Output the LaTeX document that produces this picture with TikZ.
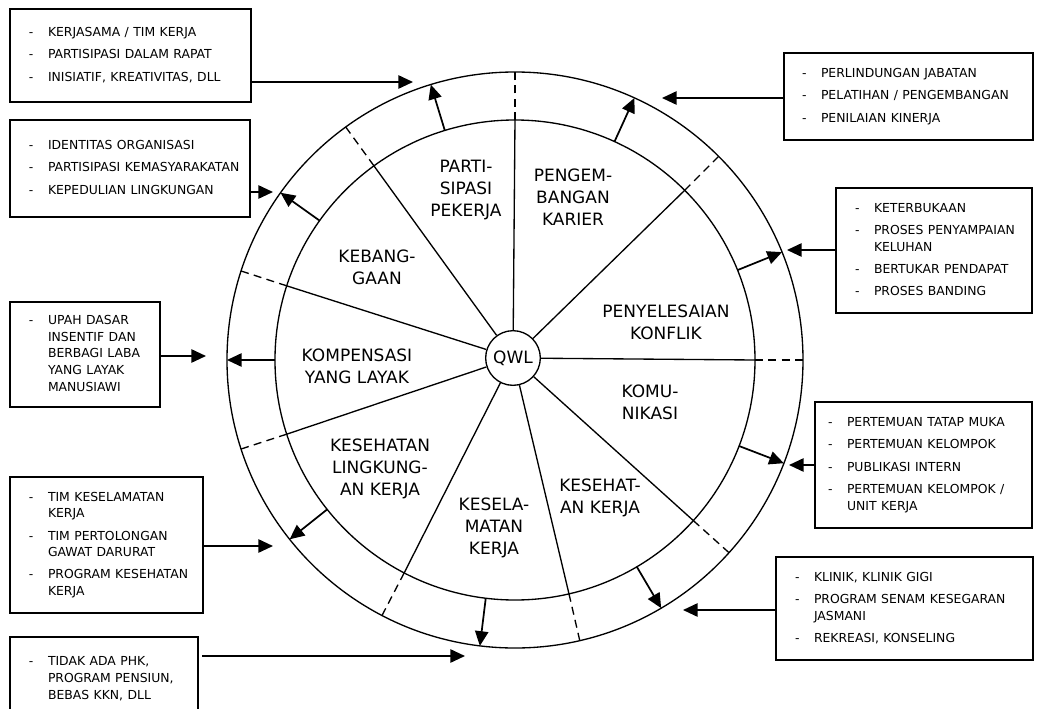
\documentclass[tikz,border=0pt]{standalone}
\usepackage{fontspec}
\setmainfont{DejaVu Sans}
\usetikzlibrary{arrows.meta}
\setlength{\parindent}{0pt}
\newcommand{\boxfont}{\fontsize{9.3}{12.5}\selectfont}
\newcommand{\segfont}{\fontsize{12.75}{16.5}\selectfont}
\newenvironment{dashlist}{\boxfont\begin{tabular}{@{}l@{\hspace{10.9pt}}l@{}}}{\end{tabular}}
\begin{document}
\begin{tikzpicture}[x=0.75pt,y=0.75pt,
    >={Triangle[length=11pt,width=10pt]},
    ring/.style={line width=1pt},
    link/.style={line width=1.3pt,->},
    seg/.style={align=center,font=\segfont},
    infobox/.style 2 args={draw,line width=1.4pt,text width=#1,minimum height=#2,
      inner xsep=14.25pt,inner ysep=0pt,align=left}]
   \useasboundingbox (-515,-348) rectangle (524,360);
   \clip (-515,-348) rectangle (524,360);
   \fill[white] (-515,-348) rectangle (524,360);
   \draw [ring] (0,0) circle (240);
   \draw [ring] (0,0) circle (288);
   \node[draw,circle,ring,minimum size=41pt,inner sep=0pt,font=\segfont] (qwl) at (-2,2) {QWL};
   \foreach \a [count=\i] in {90,45,0,-42,-77,-117.5,198,162,126} {
     \coordinate (si\i) at (\a:240);
     \coordinate (so\i) at (\a:288);
     \draw [ring] (qwl) -- (si\i);
     \draw [ring,dash pattern=on 6pt off 4pt] (si\i) -- (so\i);
   }
   \foreach \a [count=\i] in {107,65.5,22,-21,-59.5,-97,218.5,180,144.5} {
     \coordinate (ai\i) at (\a:240);
     \coordinate (ao\i) at (\a:288);
     \draw [link] (ai\i) -- (ao\i);
   }
   \node[seg] (partisipasi) at (-49,170) {PARTI-\\SIPASI\\PEKERJA};
   \node[seg] (karier) at (58,163) {PENGEM-\\BANGAN\\KARIER};
   \node[seg] (kebanggaan) at (-138,93) {KEBANG-\\GAAN};
   \node[seg] (konflik) at (151,38) {PENYELESAIAN\\KONFLIK};
   \node[seg] (kompensasi) at (-158,-6) {KOMPENSASI\\YANG LAYAK};
   \node[seg] (komunikasi) at (135,-42) {KOMU-\\NIKASI};
   \node[seg] (lingkungan) at (-135,-109) {KESEHATAN\\LINGKUNG-\\AN KERJA};
   \node[seg] (keselamatan) at (-21,-168) {KESELA-\\MATAN\\KERJA};
   \node[seg] (kesehatan) at (85,-138) {KESEHAT-\\AN KERJA};
   \node[infobox={152.25pt}{69.75pt}] (boxa) at (-384.5,304.5) {\begin{dashlist}
     - & KERJASAMA / TIM KERJA\\[4.2pt]
     - & PARTISIPASI DALAM RAPAT\\[4.2pt]
     - & INISIATIF, KREATIVITAS, DLL\end{dashlist}};
   \node[infobox={151.5pt}{72.75pt}] (boxb) at (-385,191.5) {\begin{dashlist}
     - & IDENTITAS ORGANISASI\\[4.2pt]
     - & PARTISIPASI KEMASYARAKATAN\\[4.2pt]
     - & KEPEDULIAN LINGKUNGAN\end{dashlist}};
   \node[infobox={159.75pt}{65.25pt},inner xsep=13.5pt] (boxc) at (393.5,263.5) {\begin{dashlist}
     - & PERLINDUNGAN JABATAN\\[4.2pt]
     - & PELATIHAN / PENGEMBANGAN\\[4.2pt]
     - & PENILAIAN KINERJA\end{dashlist}};
   \node[infobox={118.5pt}{93.75pt}] (boxd) at (419,109.5) {\begin{dashlist}
     - & KETERBUKAAN\\[4.2pt]
     - & PROSES PENYAMPAIAN\\
       & KELUHAN\\[4.2pt]
     - & BERTUKAR PENDAPAT\\[4.2pt]
     - & PROSES BANDING\end{dashlist}};
   \node[infobox={143.25pt}{94.5pt},inner xsep=9.75pt] (boxe) at (408.5,-105) {\begin{dashlist}
     - & PERTEMUAN TATAP MUKA\\[4.2pt]
     - & PERTEMUAN KELOMPOK\\[4.2pt]
     - & PUBLIKASI INTERN\\[4.2pt]
     - & PERTEMUAN KELOMPOK /\\
       & UNIT KERJA\end{dashlist}};
   \node[infobox={164.25pt}{77.25pt}] (boxf) at (389.5,-248.5) {\begin{dashlist}
     - & KLINIK, KLINIK GIGI\\[4.2pt]
     - & PROGRAM SENAM KESEGARAN\\
       & JASMANI\\[4.2pt]
     - & REKREASI, KONSELING\end{dashlist}};
   \node[infobox={116.25pt}{102pt}] (boxg) at (-408.5,-185) {\begin{dashlist}
     - & TIM KESELAMATAN\\
       & KERJA\\[4.2pt]
     - & TIM PERTOLONGAN\\
       & GAWAT DARURAT\\[4.2pt]
     - & PROGRAM KESEHATAN\\
       & KERJA\end{dashlist}};
   \node[infobox={112.5pt}{63pt}] (boxh) at (-411,-319) {\begin{dashlist}
     - & TIDAK ADA PHK,\\
       & PROGRAM PENSIUN,\\
       & BEBAS KKN, DLL\end{dashlist}};
   \node[infobox={84pt}{78.75pt}] (boxi) at (-430,5.5) {\begin{dashlist}
     - & UPAH DASAR\\
       & INSENTIF DAN\\
       & BERBAGI LABA\\
       & YANG LAYAK\\
       & MANUSIAWI\end{dashlist}};
   \coordinate (ta) at (-102,278);
   \coordinate (tb) at (-242,168);
   \coordinate (tc) at (147,262);
   \coordinate (td) at (272,110);
   \coordinate (te) at (274,-105);
   \coordinate (tf) at (168,-250);
   \coordinate (tg) at (-242,-186);
   \coordinate (th) at (-50,-296);
   \coordinate (ti) at (-309,4);
   \draw [link] (boxa.east |- ta) -- (ta);
   \draw [link] (boxb.east |- tb) -- (tb);
   \draw [link] (boxc.west |- tc) -- (tc);
   \draw [link] (boxd.west |- td) -- (td);
   \draw [link] (boxe.west |- te) -- (te);
   \draw [link] (boxf.west |- tf) -- (tf);
   \draw [link] (boxg.east |- tg) -- (tg);
   \draw [link] ([xshift=2.5pt]boxh.east |- th) -- (th);
   \draw [link] (boxi.east |- ti) -- (ti);
\end{tikzpicture}
\end{document}
